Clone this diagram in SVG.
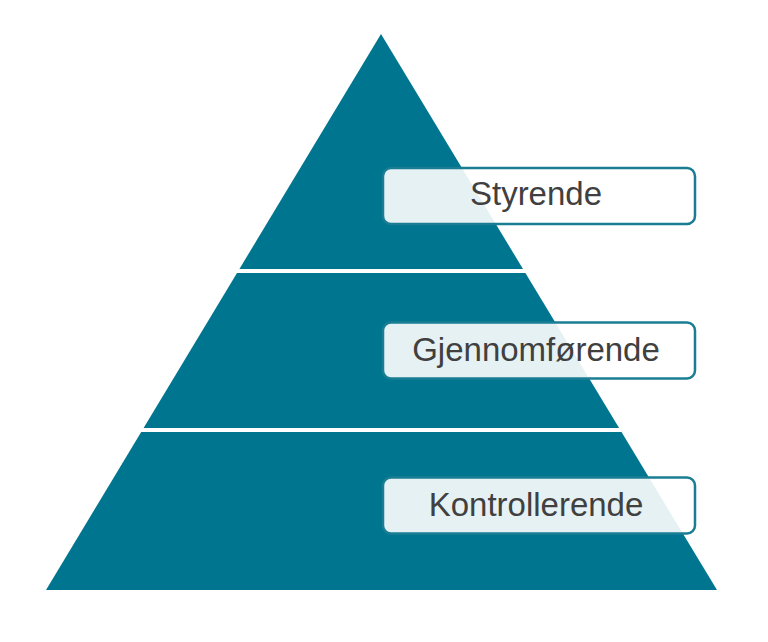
<svg xmlns="http://www.w3.org/2000/svg" width="768" height="642" viewBox="0 0 768 642">
<style>
.layer{fill:#00758f}
.box{fill:#ffffff;fill-opacity:0.9;stroke:#1a7d94;stroke-width:2.5}
.lbl{font-family:"Liberation Sans",Arial,sans-serif;font-size:33px;fill:#404040;text-anchor:middle}
</style>
<rect width="768" height="642" fill="#ffffff"/>
<g id="layer-top">
<polygon class="layer" points="381,34 523,269 239.4,269"/>
</g>
<g id="layer-middle">
<polygon class="layer" points="237,273 525.4,273 619.1,428 143.6,428"/>
</g>
<g id="layer-bottom">
<polygon class="layer" points="141.2,432 621.5,432 717,590 46,590"/>
</g>
<g id="connectors"></g>
<g id="label-styrende">
<rect class="box" x="383" y="168" width="312" height="56" rx="8"/>
<text class="lbl" x="536" y="205">Styrende</text>
</g>
<g id="label-gjennomforende">
<rect class="box" x="383" y="322.5" width="312" height="56" rx="8"/>
<text class="lbl" x="536" y="361">Gjennomførende</text>
</g>
<g id="label-kontrollerende">
<rect class="box" x="383" y="477.5" width="312" height="56" rx="8"/>
<text class="lbl" x="536" y="516">Kontrollerende</text>
</g>
</svg>
